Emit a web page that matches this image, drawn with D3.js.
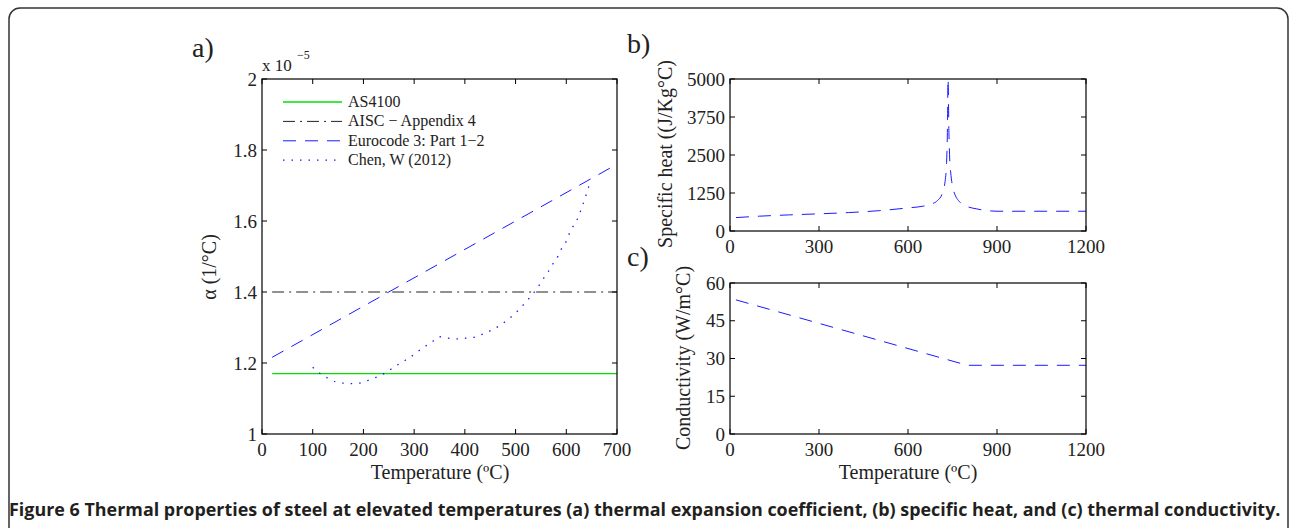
<!DOCTYPE html>
<html>
<head>
<meta charset="utf-8">
<script src="https://cdn.jsdelivr.net/npm/d3@7"></script>
<style>
  body { margin: 0; background: #fff; }
  svg text { font-family: "Liberation Serif", "DejaVu Serif", serif; fill: #222; }
  .caption { font-family: "Open Sans", "Liberation Sans", sans-serif !important; font-weight: bold; fill: #231f20; }
</style>
</head>
<body>
<div id="chart"></div>
<script>
// ---- data ----
const as4100Temp = [20, 700];
const as4100Alpha = [1.17, 1.17];
const aiscTemp = [20, 700];
const aiscAlpha = [1.4, 1.4];
const eurocodeTemp = [20, 700];
const eurocodeAlpha = [1.216, 1.76];
const chenTemp = [100, 114, 129, 145, 163, 180, 198, 214, 231, 246, 262, 277, 292, 306, 321, 336, 350,
  367, 385, 402, 420, 436, 452, 468, 482, 497, 509, 521, 533, 543, 553, 563, 572, 583, 591, 601,
  606, 615, 624, 630, 637, 642, 648];
const chenAlpha = [1.188, 1.171, 1.158, 1.147, 1.143, 1.142, 1.145, 1.154, 1.163, 1.175, 1.190, 1.203,
  1.216, 1.231, 1.246, 1.260, 1.274, 1.270, 1.268, 1.270, 1.273, 1.282, 1.292, 1.305, 1.319, 1.337,
  1.354, 1.373, 1.393, 1.411, 1.434, 1.454, 1.476, 1.499, 1.523, 1.546, 1.565, 1.589, 1.612, 1.636,
  1.664, 1.687, 1.714];

const heatTemp = [20, 100, 200, 300, 400, 500, 600, 650, 680, 700, 715, 725, 730, 733, 735, 738, 740, 745, 750, 760, 770, 785, 800, 830, 860, 900, 1000, 1200];
const heatValue = [440, 488, 530, 565, 606, 667, 760, 815, 890, 1008, 1220, 1630, 2250, 3400, 5000, 3200, 2525, 1820, 1483, 1160, 1002, 880, 803, 730, 680, 650, 650, 650];

const condTemp = [20, 800, 1200];
const condValue = [53.3, 27.3, 27.3];

const alphaTicksX = [0, 100, 200, 300, 400, 500, 600, 700];
const alphaTicksY = [1, 1.2, 1.4, 1.6, 1.8, 2];
const tempTicks = [0, 300, 600, 900, 1200];
const heatTicks = [0, 1250, 2500, 3750, 5000];
const condTicks = [0, 15, 30, 45, 60];

const legendLabels = ["AS4100", "AISC \u2212 Appendix 4", "Eurocode 3: Part 1\u22122", "Chen, W (2012)"];

// ---- layout ----
const W = 1290, H = 528;
const svg = d3.select("#chart").append("svg")
  .attr("width", W).attr("height", H);

svg.append("rect")
  .attr("x", 9).attr("y", 8)
  .attr("width", 1279).attr("height", 535)
  .attr("rx", 11)
  .attr("fill", "none")
  .attr("stroke", "#333")
  .attr("stroke-width", 1.5);

const dashed = "13,9";
const dashDot = "12,5,2,5";
const dotted = "1.5,7";
const tickFont = "19px";
const labelFont = "20px";

// draws a MATLAB-like box axes with inward ticks on all sides
const drawAxes = (x, y, xTicks, yTicks, showXLabels, fmtY) => {
  const g = svg.append("g");
  const [x0, x1] = x.range();
  const [y0, y1] = y.range();
  const tick = 5;

  xTicks.forEach(t => {
    g.append("line").attr("x1", x(t)).attr("x2", x(t)).attr("y1", y0).attr("y2", y0 - tick)
      .attr("stroke", "#000");
    g.append("line").attr("x1", x(t)).attr("x2", x(t)).attr("y1", y1).attr("y2", y1 + tick)
      .attr("stroke", "#000");
    if (showXLabels) {
      g.append("text").attr("x", x(t)).attr("y", y0 + 22)
        .attr("text-anchor", "middle").style("font-size", tickFont).text(t);
    }
  });
  yTicks.forEach(t => {
    g.append("line").attr("x1", x0).attr("x2", x0 + tick).attr("y1", y(t)).attr("y2", y(t))
      .attr("stroke", "#000");
    g.append("line").attr("x1", x1).attr("x2", x1 - tick).attr("y1", y(t)).attr("y2", y(t))
      .attr("stroke", "#000");
    g.append("text").attr("x", x0 - 5).attr("y", y(t) + 6.5)
      .attr("text-anchor", "end").style("font-size", tickFont).text(fmtY(t));
  });
  g.append("rect")
    .attr("x", x0).attr("y", y1)
    .attr("width", x1 - x0).attr("height", y0 - y1)
    .attr("fill", "none").attr("stroke", "#000").attr("stroke-width", 1.2);
  return g;
};

// ---- panel a ----
const xA = d3.scaleLinear().domain([0, 700]).range([262, 617]);
const yA = d3.scaleLinear().domain([1, 2]).range([434, 79]);

const lineA = (temps, vals, curve) => d3.line()
  .x(i => xA(temps[i])).y(i => yA(vals[i]))
  .curve(curve || d3.curveLinear)(d3.range(temps.length));

const seriesA = [
  { temps: as4100Temp, vals: as4100Alpha, color: "#00e000", dash: null, width: 1.3 },
  { temps: aiscTemp, vals: aiscAlpha, color: "#222", dash: dashDot, width: 1 },
  { temps: eurocodeTemp, vals: eurocodeAlpha, color: "#1a1aff", dash: dashed, width: 1 },
  { temps: chenTemp, vals: chenAlpha, color: "#1a1aff", dash: dotted, width: 1.3, curve: d3.curveMonotoneX }
];

seriesA.forEach(s => {
  svg.append("path")
    .attr("d", lineA(s.temps, s.vals, s.curve))
    .attr("fill", "none")
    .attr("stroke", s.color)
    .attr("stroke-width", s.width)
    .attr("stroke-dasharray", s.dash);
});

drawAxes(xA, yA, alphaTicksX, alphaTicksY, true, d => d === 1 || d === 2 ? d : d.toFixed(1));

// legend
seriesA.forEach((s, i) => {
  const ly = 102 + i * 19.4;
  svg.append("line")
    .attr("x1", 283).attr("x2", 342).attr("y1", ly).attr("y2", ly)
    .attr("stroke", s.color).attr("stroke-width", s.width)
    .attr("stroke-dasharray", s.dash);
  svg.append("text").attr("x", 348).attr("y", ly + 5)
    .style("font-size", "16px").text(legendLabels[i]);
});

svg.append("text").attr("x", 262).attr("y", 71).style("font-size", "17px").text("x 10");
svg.append("text").attr("x", 297).attr("y", 59).style("font-size", "12px").text("\u22125");

svg.append("text").attr("x", 440).attr("y", 479)
  .attr("text-anchor", "middle").style("font-size", labelFont).text("Temperature (\u00baC)");
svg.append("text")
  .attr("transform", "translate(216,267) rotate(-90)")
  .attr("text-anchor", "middle").style("font-size", labelFont).text("\u03b1 (1/\u00b0C)");
svg.append("text").attr("x", 192).attr("y", 57).style("font-size", "28px").text("a)");

// ---- panel b ----
const xB = d3.scaleLinear().domain([0, 1200]).range([730, 1086]);
const yB = d3.scaleLinear().domain([0, 5000]).range([231, 79]);

svg.append("path")
  .attr("d", d3.line().x(i => xB(heatTemp[i])).y(i => yB(heatValue[i]))
    .curve(d3.curveMonotoneX)(d3.range(heatTemp.length)))
  .attr("fill", "none")
  .attr("stroke", "#1a1aff")
  .attr("stroke-width", 1)
  .attr("stroke-dasharray", dashed);

drawAxes(xB, yB, tempTicks, heatTicks, true, d => d);
svg.append("text")
  .attr("transform", "translate(672,154) rotate(-90)")
  .attr("text-anchor", "middle").style("font-size", labelFont).text("Specific heat ((J/Kg\u00b0C)");
svg.append("text").attr("x", 627).attr("y", 53).style("font-size", "28px").text("b)");

// ---- panel c ----
const xC = d3.scaleLinear().domain([0, 1200]).range([730, 1086]);
const yC = d3.scaleLinear().domain([0, 60]).range([434, 283]);

svg.append("path")
  .attr("d", d3.line().x(i => xC(condTemp[i])).y(i => yC(condValue[i]))(d3.range(condTemp.length)))
  .attr("fill", "none")
  .attr("stroke", "#1a1aff")
  .attr("stroke-width", 1)
  .attr("stroke-dasharray", dashed);

drawAxes(xC, yC, tempTicks, condTicks, true, d => d);
svg.append("text").attr("x", 908).attr("y", 479)
  .attr("text-anchor", "middle").style("font-size", labelFont).text("Temperature (\u00baC)");
svg.append("text")
  .attr("transform", "translate(690,358) rotate(-90)")
  .attr("text-anchor", "middle").style("font-size", labelFont).text("Conductivity (W/m\u00b0C)");
svg.append("text").attr("x", 627).attr("y", 266).style("font-size", "28px").text("c)");

// ---- caption (scaled horizontally to mimic the condensed journal font) ----
const cap = svg.append("text").attr("class", "caption")
  .attr("x", 0).attr("y", 0)
  .style("font-size", "18.5px")
  .text("Figure 6 Thermal properties of steel at elevated temperatures (a) thermal expansion coefficient, (b) specific heat, and (c) thermal conductivity.");
const capWidth = cap.node().getComputedTextLength();
cap.attr("transform", `translate(9,516) scale(${1272 / capWidth},1)`);
</script>
</body>
</html>
